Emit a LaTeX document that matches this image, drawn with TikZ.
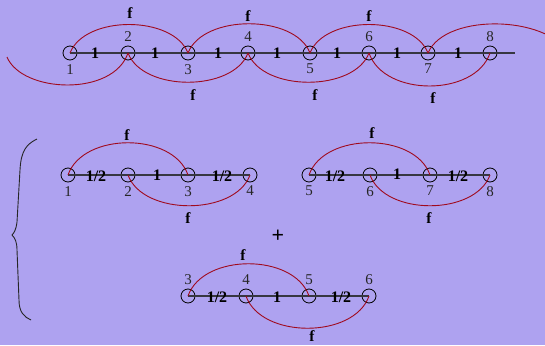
\documentclass[tikz,border=0pt]{standalone}
\usepackage{fontspec}
\setmainfont{Liberation Serif}
\definecolor{bg}{RGB}{174,162,240}
\definecolor{fred}{RGB}{160,10,30}
\definecolor{lgray}{RGB}{55,55,65}
\begin{document}
\begin{tikzpicture}[x=1pt,y=-1pt,
 circ/.style={circle,draw=black,line width=0.8pt,minimum size=14pt,inner sep=0pt},
 lab/.style={font=\fontsize{15}{17}\selectfont,text=black!85,inner sep=3.5pt},
 elab/.style={font=\fontsize{16}{18}\selectfont\bfseries,inner sep=0pt},
 fl/.style={font=\fontsize{15.5}{17}\selectfont\bfseries,inner sep=0pt},
 axis/.style={draw=lgray,line width=1.1pt},
 fc/.style={draw=fred,line width=0.9pt},
]
\useasboundingbox (0,0) rectangle (545,345);
\fill[bg] (0,0) rectangle (545,345);
\clip (0,0) rectangle (545,345);

% ---------- top row ----------
\node[circ,label={[lab]below:1}] (a1) at (70,53) {};
\node[circ,label={[lab]above:2}] (a2) at (128,53) {};
\node[circ,label={[lab]below:3}] (a3) at (188,53) {};
\node[circ,label={[lab]above:4}] (a4) at (248,53) {};
\node[circ,label={[lab]below:5}] (a5) at (310,53) {};
\node[circ,label={[lab]above:6}] (a6) at (369,53) {};
\node[circ,label={[lab]below:7}] (a7) at (428,53) {};
\node[circ,label={[lab]above:8}] (a8) at (490,53) {};
\coordinate (aE) at (515,53);
\draw[axis] (a1.center) -- (aE);
\node[elab] (ae1) at (95,53) {1};
\node[elab] (ae2) at (155,53) {1};
\node[elab] (ae3) at (218,53) {1};
\node[elab] (ae4) at (277,53) {1};
\node[elab] (ae5) at (337,53) {1};
\node[elab] (ae6) at (397,53) {1};
\node[elab] (ae7) at (458,53) {1};
\draw[fc] (a1.center) .. controls +(15,-38) and +(-15,-38) .. (a3.center);
\draw[fc] (a3.center) .. controls +(15,-39) and +(-15,-39) .. (a5.center);
\draw[fc] (a5.center) .. controls +(15,-38) and +(-15,-38) .. (a7.center);
\coordinate (aR) at (570,58);
\draw[fc] (a7.center) .. controls +(18,-42) and +(-14,-42) .. (aR);
\coordinate (aL) at (7,57);
\draw[fc] (aL) .. controls +(15,36) and +(-15,44) .. (a2.center);
\draw[fc] (a2.center) .. controls +(15,39) and +(-15,39) .. (a4.center);
\draw[fc] (a4.center) .. controls +(15,39) and +(-15,39) .. (a6.center);
\draw[fc] (a6.center) .. controls +(15,44) and +(-15,44) .. (a8.center);
\node[fl] (af1) at (130,13) {f};
\node[fl] (af2) at (248,16) {f};
\node[fl] (af3) at (369,16) {f};
\node[fl] (af4) at (193,95) {f};
\node[fl] (af5) at (315,95) {f};
\node[fl] (af6) at (433,98) {f};

% ---------- group A ----------
\node[circ,label={[lab]below:1}] (b1) at (68,175) {};
\node[circ,label={[lab]below:2}] (b2) at (128,175) {};
\node[circ,label={[lab]below:3}] (b3) at (188,175) {};
\node[circ,label={[lab]below:4}] (b4) at (250,175) {};
\draw[axis] (b1.center) -- (b4.center);
\node[elab] (be1) at (96,176) {1/2};
\node[elab] (be2) at (157,175) {1};
\node[elab] (be3) at (222,176) {1/2};
\draw[fc] (b1.center) .. controls +(15,-43) and +(-15,-43) .. (b3.center);
\draw[fc] (b2.center) .. controls +(15,41) and +(-15,41) .. (b4.center);
\node[fl] (bf1) at (127,135) {f};
\node[fl] (bf2) at (188,218) {f};

% ---------- group B ----------
\node[circ,label={[lab]below:5}] (c5) at (309,175) {};
\node[circ,label={[lab]below:6}] (c6) at (370,175) {};
\node[circ,label={[lab]below:7}] (c7) at (430,175) {};
\node[circ,label={[lab]below:8}] (c8) at (490,175) {};
\draw[axis] (c5.center) -- (c8.center);
\node[elab] (ce1) at (335,176) {1/2};
\node[elab] (ce2) at (397,174) {1};
\node[elab] (ce3) at (458,176) {1/2};
\draw[fc] (c5.center) .. controls +(15,-43) and +(-15,-43) .. (c7.center);
\draw[fc] (c6.center) .. controls +(15,41) and +(-15,41) .. (c8.center);
\node[fl] (cf1) at (372,133) {f};
\node[fl] (cf2) at (429,218) {f};

\node[font=\fontsize{22}{24}\selectfont\bfseries,inner sep=0pt] (plus) at (278,236) {+};

% ---------- group C ----------
\node[circ,label={[lab]above:3}] (d3) at (188,296) {};
\node[circ,label={[lab]above:4}] (d4) at (246,296) {};
\node[circ,label={[lab]above:5}] (d5) at (309,296) {};
\node[circ,label={[lab]above:6}] (d6) at (369,296) {};
\draw[axis] (d3.center) -- (d6.center);
\node[elab] (de1) at (217,297) {1/2};
\node[elab] (de2) at (277,297) {1};
\node[elab] (de3) at (341,297) {1/2};
\draw[fc] (d3.center) .. controls +(15,-43) and +(-15,-43) .. (d5.center);
\draw[fc] (d4.center) .. controls +(15,43) and +(-15,43) .. (d6.center);
\node[fl] (df1) at (243,255) {f};
\node[fl] (df2) at (312,336) {f};

% ---------- brace ----------
\draw[line width=0.9pt,black!85] (37,139) .. controls (27,144) and (21,150) .. (20,170)
  -- (17,222) .. controls (16,230) and (14,233) .. (12,235)
  .. controls (15,238) and (17,242) .. (17,250) -- (19,300)
  .. controls (19,312) and (24,317) .. (31,320);
\end{tikzpicture}
\end{document}
